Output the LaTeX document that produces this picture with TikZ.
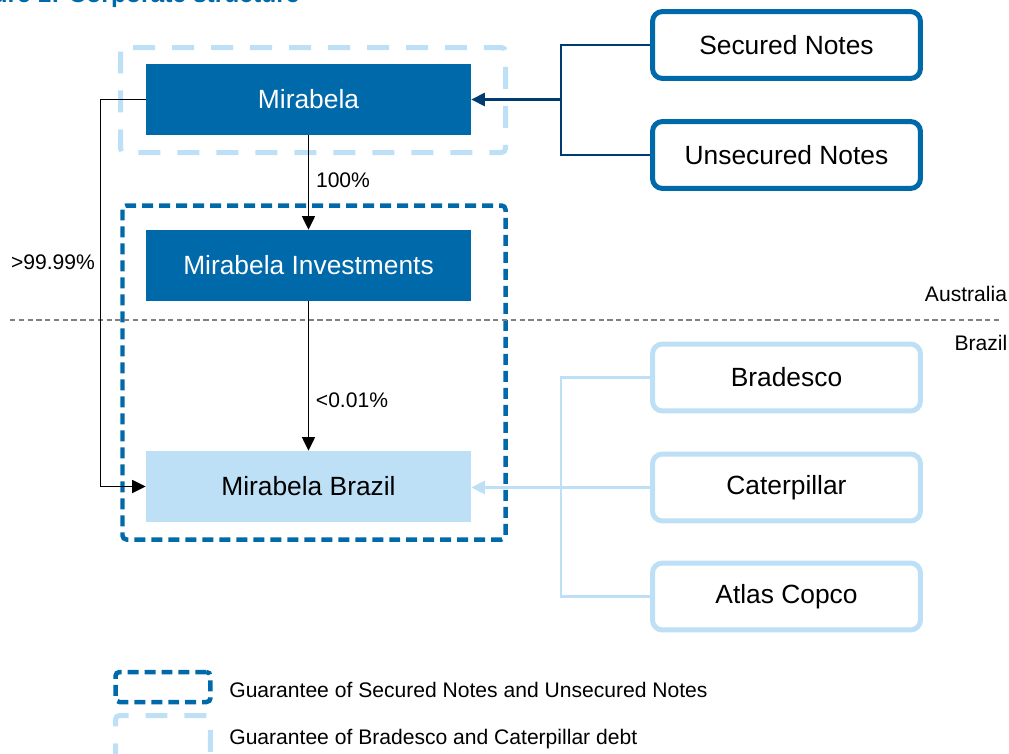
\documentclass[tikz,border=0pt]{standalone}
\usepackage{fontspec}
\setmainfont{Liberation Sans}
\usetikzlibrary{arrows.meta,positioning}
\definecolor{mirblue}{HTML}{0069AA}
\definecolor{mirlight}{HTML}{BDE0F6}
\definecolor{mirnavy}{HTML}{003C71}

\begin{document}
\begin{tikzpicture}[
    x=0.02cm, y=-0.02cm,
    entity/.style={fill=mirblue, text=white, minimum width=6.5cm, minimum height=1.42cm, inner sep=0pt, font=\fontsize{15}{18}\selectfont},
    local/.style={entity, fill=mirlight, text=black},
    lender/.style={draw=mirblue, line width=0.1cm, rounded corners=0.2cm, fill=white, minimum width=5.36cm, minimum height=1.34cm, inner sep=0pt, font=\fontsize{15}{18}\selectfont},
    lenderlt/.style={lender, draw=mirlight},
    lab/.style={inner sep=0pt, font=\fontsize{12}{14}\selectfont},
    arrow/.style={-{Triangle[length=0.27cm,width=0.26cm]}, line width=0.7pt},
    navyarrow/.style={arrow, draw=mirnavy, fill=mirnavy, line width=1.5pt},
    navyline/.style={draw=mirnavy, line width=0.8pt},
    lightarrow/.style={arrow, draw=mirlight, fill=mirlight, line width=1.6pt},
    lightline/.style={draw=mirlight, line width=1.6pt},
    guarA/.style={draw=mirblue, line width=0.09cm, dash pattern=on 0.22cm off 0.12cm, rounded corners=0.08cm},
    guarB/.style={draw=mirlight, line width=0.1cm, dash pattern=on 0.44cm off 0.34cm, rounded corners=0.08cm},
    border/.style={draw=gray, line width=0.6pt, dash pattern=on 3pt off 2pt}
]
\useasboundingbox (0,0) rectangle (1009,754);

\node[anchor=base east, text=mirblue, inner sep=0pt, font=\bfseries\fontsize{14}{16}\selectfont] (title) at (300,2) {Figure 1: Corporate structure};

\draw[guarB] (120.5,47.5) rectangle (505.5,152.5);
\draw[guarA] (122.5,205.5) rectangle (505.5,539.5);
\draw[border] (10,320) -- (1000,320);

\node[entity] (mir) at (308.5,99.5) {Mirabela};
\node[entity] (inv) at (308.5,265.5) {Mirabela Investments};
\node[local] (bra) at (308.5,486.5) {Mirabela Brazil};

\node[lender] (sec) at (786.5,45) {Secured Notes};
\node[lender] (uns) at (786.5,155) {Unsecured Notes};
\node[lenderlt] (brad) at (786.5,377.5) {Bradesco};
\node[lenderlt] (cat) at (786.5,487.5) {Caterpillar};
\node[lenderlt] (atl) at (786.5,596.5) {Atlas Copco};

\node[lab] (aus) at (966,294) {Australia};
\node[lab] (brz) at (981,343) {Brazil};
\node[lab] (pcta) at (343,180) {100\%};
\node[lab] (pctb) at (352,400) {<0.01\%};
\node[lab] (pctc) at (53,262) {>99.99\%};

\node[guarA, minimum width=1.9cm, minimum height=0.6cm, inner sep=0pt] (keya) at (163,687) {};
\node[lab, anchor=west] (keyatxt) at (229,690) {Guarantee of Secured Notes and Unsecured Notes};
\node[guarB, minimum width=1.9cm, minimum height=0.9cm, inner sep=0pt] (keyb) at (163,738) {};
\node[lab, anchor=west] (keybtxt) at (229,739) {Guarantee of Bradesco and Caterpillar debt};

\coordinate (nj) at (561,99.5);
\draw[navyline] (sec.west) -| (nj);
\draw[navyline] (uns.west) -| (nj);
\draw[navyarrow] (nj) -- (mir.east);

\coordinate (lj) at (561,487.5);
\draw[lightline] (brad.west) -| (lj);
\draw[lightline] (atl.west) -| (lj);
\draw[lightarrow] (cat.west) -- (bra.east |- cat.west);

\draw[arrow] (mir) -- (inv);
\draw[arrow] (inv) -- (bra);
\draw[arrow] (mir.west) -- ++(-45,0) |- (bra.west);

\end{tikzpicture}
\end{document}
